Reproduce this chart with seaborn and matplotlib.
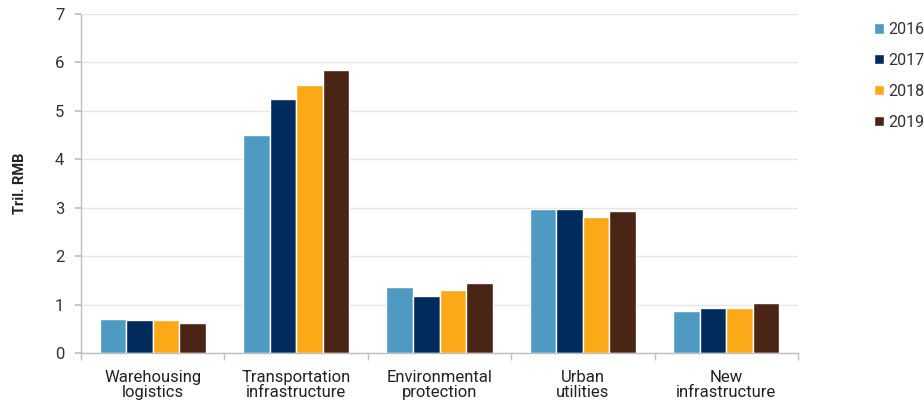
import matplotlib
matplotlib.use("Agg")
import matplotlib.pyplot as plt
import seaborn as sns
import pandas as pd
import numpy as np

categories = ["Warehousing\nlogistics", "Transportation\ninfrastructure", "Environmental\nprotection",
              "Urban\nutilities", "New\ninfrastructure"]
years = ["2016", "2017", "2018", "2019"]
v2016 = [0.70, 4.50, 1.36, 2.97, 0.87]
v2017 = [0.68, 5.25, 1.18, 2.97, 0.93]
v2018 = [0.68, 5.53, 1.30, 2.80, 0.93]
v2019 = [0.62, 5.84, 1.45, 2.94, 1.03]
colors = ["#4F9AC3", "#002B5C", "#FCA918", "#4A2515"]

rows = []
for y, vals in zip(years, [v2016, v2017, v2018, v2019]):
    for c, v in zip(categories, vals):
        rows.append({"cat": c, "year": y, "val": v})
df = pd.DataFrame(rows)

sns.set_theme(style="white")
plt.rcParams['font.family'] = ['Roboto', 'DejaVu Sans']

fig = plt.figure(figsize=(9.24, 4.04), dpi=100)
ax = fig.add_axes([81/924, 1-353/404, (798-81)/924, (353-14)/404])
sns.barplot(data=df, x="cat", y="val", hue="year", palette=colors, ax=ax,
            width=0.74, saturation=1, errorbar=None)

ax.set_ylim(0, 7)
ax.set_xlim(-0.5, 4.5)
ax.set_yticks(range(0, 8))
ax.yaxis.grid(True, color="#E6E6E6", linewidth=1)
ax.set_axisbelow(True)
for s in ["top", "right"]:
    ax.spines[s].set_visible(False)
for s in ["left", "bottom"]:
    ax.spines[s].set_color("#BFBFBF")
    ax.spines[s].set_linewidth(1)
ax.tick_params(axis="y", which="major", left=True, length=4, color="#BFBFBF", labelsize=12, labelcolor="#333333", pad=8)
ax.tick_params(axis="x", which="major", bottom=False, labelsize=12, labelcolor="#222222", pad=6)
for lbl in ax.get_xticklabels():
    lbl.set_linespacing(1.05)
ax.set_xticks(np.arange(-0.5, 5.0, 1.0), minor=True)
ax.tick_params(axis="x", which="minor", bottom=True, length=5, color="#BFBFBF")
ax.set_xlabel("")
ax.set_ylabel("Tril. RMB", fontsize=10.5, fontweight="bold", color="#222222", labelpad=20)

leg = ax.legend(loc="upper left", bbox_to_anchor=((868-81)/(798-81), 0.995), frameon=False,
                fontsize=11.5, handlelength=0.6, handleheight=0.6, handletextpad=0.25,
                labelspacing=1.0, borderaxespad=0)
for t in leg.get_texts():
    t.set_color("#333333")

fig.savefig("out.png", dpi=100)
